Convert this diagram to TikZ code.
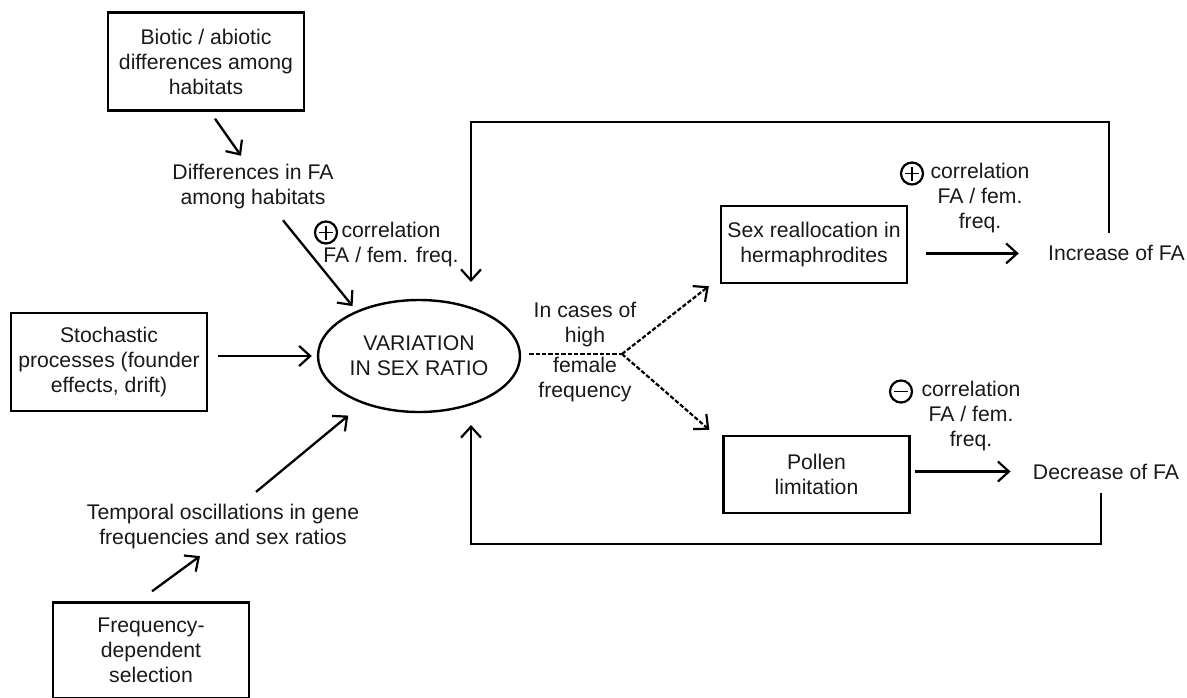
\documentclass[tikz,border=0pt]{standalone}
\usepackage{fontspec}
\setmainfont{Liberation Sans}
\usetikzlibrary{arrows.meta,calc,shapes.geometric}
\begin{document}
\begin{tikzpicture}[x=0.5pt,y=-0.5pt,
  every node/.style={font=\fontsize{10.6pt}{12.5pt}\selectfont, align=center, inner sep=0pt, text=black!90},
  box/.style={draw, line width=1.2pt, minimum width=98pt, minimum height=49pt},
  smallbox/.style={draw, line width=1.2pt, minimum width=93pt, minimum height=38.5pt},
  tip/.style={-{Straight Barb[length=5.5pt,width=10pt,line width=1.1pt]}},
  arr/.style={line width=1.15pt, tip},
  fbline/.style={line width=0.9pt, tip},
  dsh/.style={line width=1.1pt, dash pattern=on 2.2pt off 1pt},
  dsharr/.style={dsh, tip},
  pm/.style={draw, circle, line width=1.1pt, minimum size=11pt},
  pmline/.style={line width=0.9pt}
]
\useasboundingbox (0,0) rectangle (1187,697);
\clip (0,0) rectangle (1187,697);

% left column
\node[box] (b1) at (206,61.5) {Biotic / abiotic\\differences among\\habitats};
\node (diff) at (253,186.5) {Differences in FA\\among habitats};
\node (c1) at (391,245) {correlation\\FA / fem. freq.};
\node[pm] (p1) at (326,232.5) {};
\draw[pmline] ($(p1.center)+(-7,0)$) -- ($(p1.center)+(7,0)$);
\draw[pmline] ($(p1.center)+(0,-7)$) -- ($(p1.center)+(0,7)$);
\node[box] (st) at (109,362) {Stochastic\\processes (founder\\effects, drift)};
\node[draw, ellipse, line width=1.2pt, minimum width=101pt, minimum height=56pt] (ell) at (419,356) {VARIATION\\IN SEX RATIO};
\node (tmp) at (223,526.7) {Temporal oscillations in gene\\frequencies and sex ratios};
\node[box, minimum height=48pt] (fds) at (151,650.5) {Frequency-\\dependent\\selection};

% middle
\node (hi1) at (585,324.2) {In cases of\\high};
\node (hi2) at (585,380) {female\\frequency};
\coordinate (split) at (622,354);

% right
\node[smallbox] (sex) at (814,244.5) {Sex reallocation in\\hermaphrodites};
\node[smallbox] (pol) at (816.5,474.5) {Pollen\\limitation};
\node (inc) at (1116.5,253.4) {Increase of FA};
\node (dec) at (1106,471.5) {Decrease of FA};
\node (c2) at (980,198.5) {correlation\\FA / fem.\\freq.};
\node[pm] (p2) at (912,173.5) {};
\draw[pmline] ($(p2.center)+(-7,0)$) -- ($(p2.center)+(7,0)$);
\draw[pmline] ($(p2.center)+(0,-7)$) -- ($(p2.center)+(0,7)$);
\node (c3) at (971,416.5) {correlation\\FA / fem.\\freq.};
\node[pm] (m3) at (901,391.5) {};
\draw[pmline] ($(m3.center)+(-7,0)$) -- ($(m3.center)+(7,0)$);

% connectors
\draw[arr] ($(b1.south)+(9,7)$) -- ($(diff.north)+(-12,-8)$);
\draw[arr] ($(diff.south)+(30,11)$) -- ($(ell.143)+(-5.5,-4)$);
\draw[arr] ($(st.east |- ell.west)+(10,0)$) -- ($(ell.west)+(-5,0)$);
\draw[arr] ($(tmp.north)+(33,-12)$) -- ($(ell.220)+(-14,12)$);
\draw[arr] ($(fds.north)+(1,-10)$) -- ($(tmp.south)+(-23,6.6)$);

\draw[dsh] ($(ell.east)+(8,-2)$) -- (split);
\draw[dsharr] (split) -- ($(sex.south west)+(-11,2)$);
\draw[dsharr] (split) -- ($(pol.north west)+(-13,-5)$);

\draw[arr] ($(sex.east |- inc.west)+(18,0)$) -- ($(inc.west)+(-29,0)$);
\draw[arr] ($(pol.east |- dec.west)+(4,0)$) -- ($(dec.west)+(-22,0)$);

% feedback loops
\coordinate (incTop) at ($(inc.north)+(-7.5,-12)$);
\coordinate (topTip) at (471,282);
\draw[fbline] (incTop) -- ++(0,-111) -| (topTip);
\coordinate (decBot) at ($(dec.south)+(-5,13)$);
\coordinate (botTip) at (471,425);
\draw[fbline] (decBot) -- ++(0,51) -| (botTip);
\end{tikzpicture}
\end{document}
